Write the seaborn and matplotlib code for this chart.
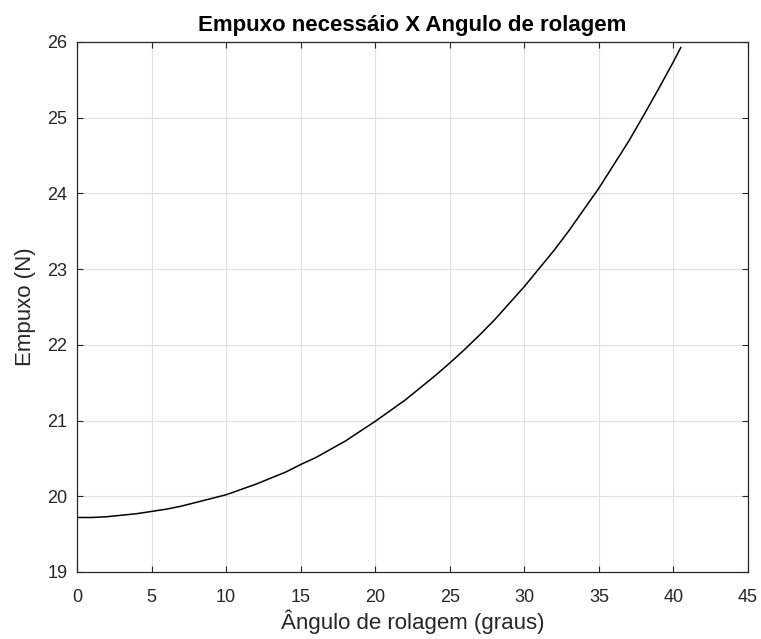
import matplotlib
matplotlib.use("Agg")
import matplotlib.pyplot as plt
import seaborn as sns
import pandas as pd

angulo = [0, 1, 2, 3, 4, 5, 6, 7, 8, 9, 10, 11, 12, 13, 14, 15, 16, 17, 18, 19, 20,
          21, 22, 23, 24, 25, 26, 27, 28, 29, 30, 31, 32, 33, 34, 35, 36, 37, 38, 39, 40, 40.5]
empuxo = [19.72, 19.72, 19.73, 19.75, 19.77, 19.80, 19.83, 19.87, 19.92, 19.97, 20.02,
          20.09, 20.16, 20.24, 20.32, 20.42, 20.51, 20.62, 20.73, 20.86, 20.99,
          21.13, 21.27, 21.43, 21.59, 21.76, 21.94, 22.13, 22.33, 22.55, 22.77,
          23.01, 23.25, 23.51, 23.79, 24.07, 24.38, 24.69, 25.03, 25.38, 25.74, 25.93]
xticks = [0, 5, 10, 15, 20, 25, 30, 35, 40, 45]
yticks = [19, 20, 21, 22, 23, 24, 25, 26]

sns.set_theme(style="whitegrid")
plt.rcParams['font.family'] = ['Liberation Sans', 'DejaVu Sans']

df = pd.DataFrame({"angulo": angulo, "empuxo": empuxo})

fig = plt.figure(figsize=(7.61, 6.39), dpi=100)
# axes: left 77px, right 748px, top 42px, bottom 572px
ax = fig.add_axes([77 / 761, 1 - 572 / 639, (748 - 77) / 761, (572 - 42) / 639])
sns.lineplot(data=df, x="angulo", y="empuxo", ax=ax, color="black", linewidth=1.1)

ax.set_xlim(0, 45)
ax.set_ylim(19, 26)
ax.set_xticks(xticks)
ax.set_yticks(yticks)
ax.grid(True, color="#e0e0e0", linewidth=0.8)
for s in ax.spines.values():
    s.set_color("#262626")
    s.set_linewidth(0.9)
ax.tick_params(direction="in", length=4, width=0.8, colors="#262626", labelsize=13,
               top=True, right=True, left=True, bottom=True, labelcolor="#262626")
ax.tick_params(axis="y", pad=7)
ax.tick_params(axis="x", pad=12)
ax.set_xlabel("Ângulo de rolagem (graus)", fontsize=16, color="#262626", labelpad=3)
ax.set_ylabel("Empuxo (N)", fontsize=16, color="#262626", labelpad=8)
ax.set_title("Empuxo necessáio X Angulo de rolagem", fontsize=16, fontweight="bold",
             pad=8, color="black")

fig.savefig("out.png", dpi=100)
